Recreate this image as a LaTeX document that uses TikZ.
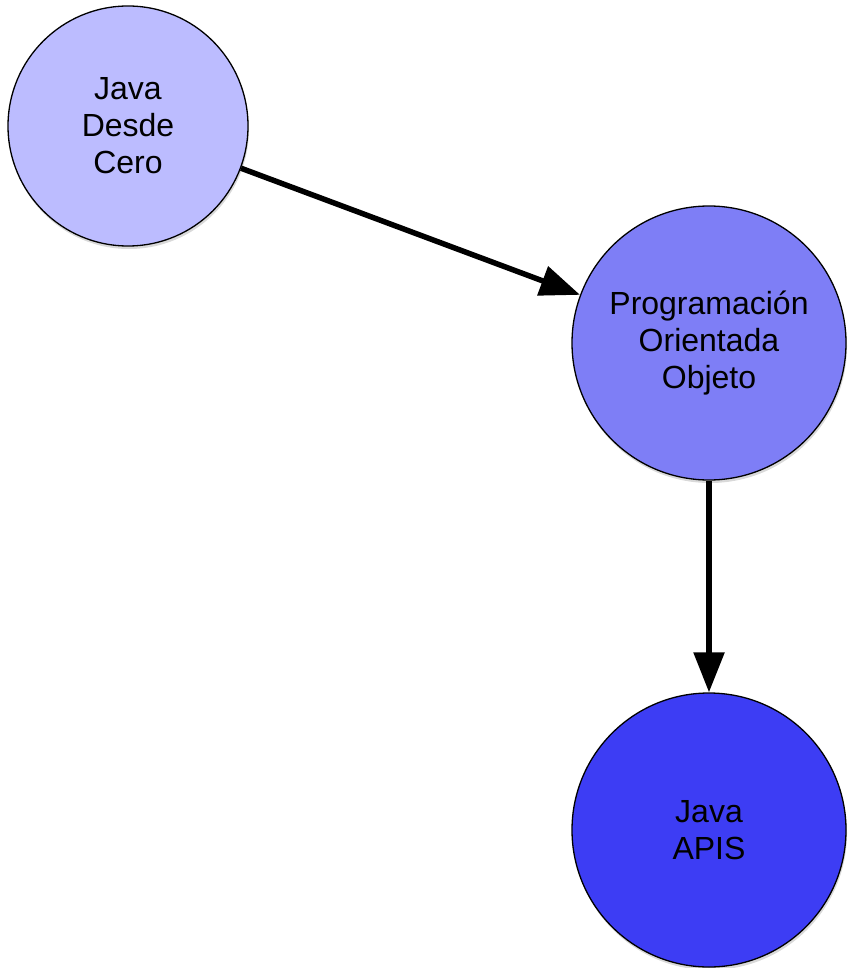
\documentclass[tikz,border=0pt]{standalone}
\usepackage{fontspec}
\setmainfont{Liberation Sans}
\usetikzlibrary{arrows.meta,shadows}

\definecolor{lightblob}{HTML}{BCBCFF}
\definecolor{midblob}{HTML}{7E7EF6}
\definecolor{darkblob}{HTML}{3D3DF4}

\tikzset{
  topic/.style={circle, draw=black, line width=1.3pt, inner sep=0pt,
    align=center, font=\fontsize{32}{37}\selectfont,
    drop shadow={shadow xshift=1pt, shadow yshift=-3pt, opacity=0.3}},
  link/.style={line width=5.5pt, -{Triangle[length=40pt,width=30pt]}}
}

\begin{document}
\begin{tikzpicture}[x=1pt, y=-1pt]
  \useasboundingbox (0,0) rectangle (847,968);

  \node[topic, fill=lightblob, minimum size=240pt] (java) at (128,126)
    {Java\\Desde\\Cero};
  \node[topic, fill=midblob, minimum size=274pt] (poo) at (709,343)
    {Programación\\Orientada\\Objeto};
  \node[topic, fill=darkblob, minimum size=274pt] (apis) at (709,830)
    {Java\\APIS};

  \draw[link] (java) -- (poo);
  \draw[link] (poo) -- (apis);
\end{tikzpicture}
\end{document}
